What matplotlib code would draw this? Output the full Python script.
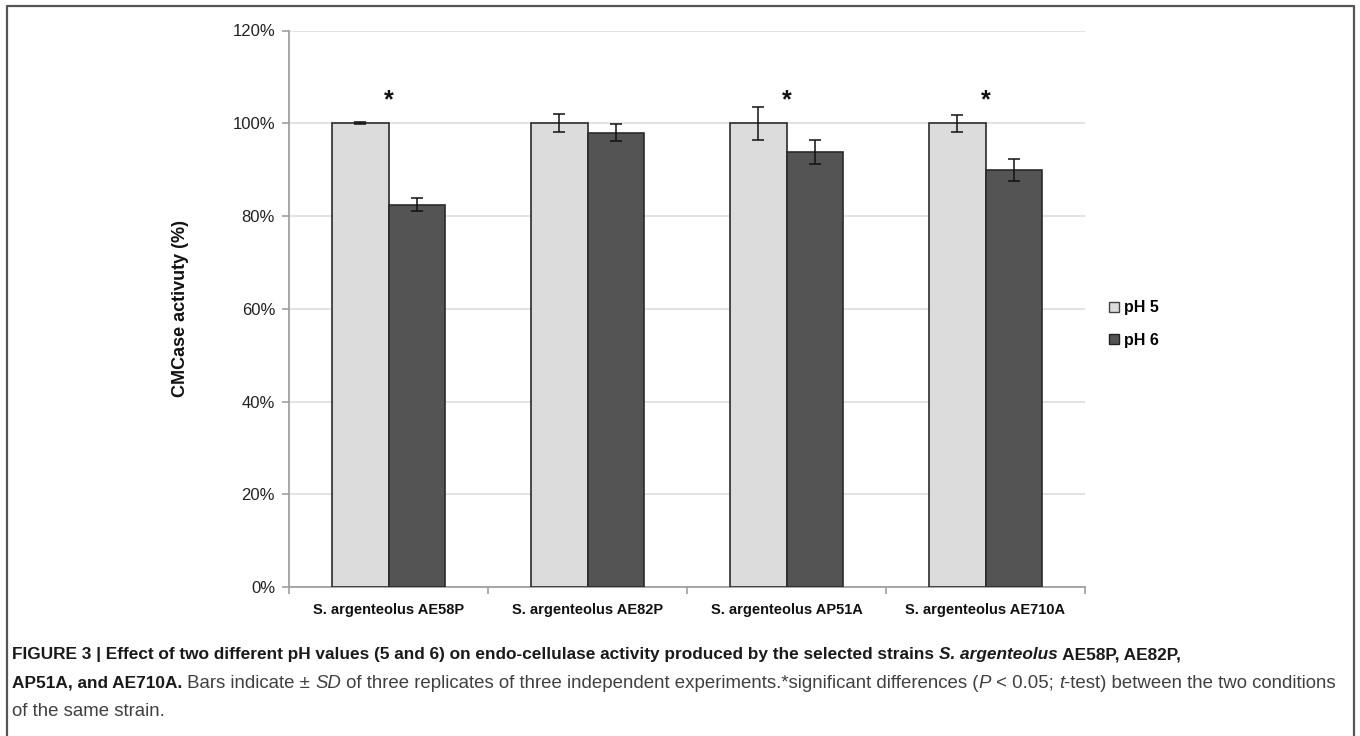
import matplotlib
matplotlib.use("Agg")
import matplotlib.pyplot as plt
import numpy as np
from matplotlib.patches import Patch
from matplotlib.lines import Line2D

plt.rcParams['font.family'] = ['Liberation Sans', 'DejaVu Sans']

categories = ["S. argenteolus AE58P", "S. argenteolus AE82P",
              "S. argenteolus AP51A", "S. argenteolus AE710A"]
series_names = ["pH 5", "pH 6"]
ph5_values = [100.0, 100.0, 100.0, 100.0]
ph5_errors = [0.2, 1.9, 3.6, 1.8]
ph6_values = [82.5, 98.0, 93.8, 89.9]
ph6_errors = [1.3, 1.8, 2.6, 2.3]
significant = [True, False, True, True]
yticks = [0, 20, 40, 60, 80, 100, 120]
ylabel = "CMCase activuty (%)"

W, H = 1360, 736
fig = plt.figure(figsize=(W / 100, H / 100), dpi=100)
ax = fig.add_axes([289 / W, 1 - 587.3 / H, (1085 - 289) / W, (587.3 - 30.5) / H])

x = np.arange(len(categories))
bw = 0.286
c5, c6 = "#dcdcdc", "#545454"
edge = "#2b2b2b"
ax.bar(x - bw / 2, ph5_values, bw, color=c5, edgecolor=edge, linewidth=1.2, zorder=3, label=series_names[0])
ax.bar(x + bw / 2, ph6_values, bw, color=c6, edgecolor=edge, linewidth=1.2, zorder=3, label=series_names[1])
ax.errorbar(x - bw / 2, ph5_values, yerr=ph5_errors, fmt='none', ecolor='#111111',
            elinewidth=1.1, capsize=4, capthick=1.1, zorder=4)
ax.errorbar(x + bw / 2, ph6_values, yerr=ph6_errors, fmt='none', ecolor='#111111',
            elinewidth=1.1, capsize=4, capthick=1.1, zorder=4)

for i, s in enumerate(significant):
    if s:
        ax.text(x[i], 105, "*", ha='center', va='center', fontsize=18, fontweight='bold', color='#111111')

ax.set_xlim(-0.5, len(categories) - 0.5)
ax.set_ylim(0, 120)
ax.set_yticks(yticks)
ax.set_yticklabels([f"{v}%" for v in yticks], fontsize=12, color='#222222')
ax.yaxis.grid(True, color='#dedede', linewidth=1.2, zorder=0)
ax.set_axisbelow(True)
ax.set_xticks(x)
ax.set_xticklabels(categories, fontsize=10.5, fontweight='bold', color='#111111')
ax.tick_params(axis='x', length=0, pad=11)
ax.set_xticks(np.arange(len(categories) + 1) - 0.5, minor=True)
ax.tick_params(axis='x', which='minor', length=5, color='#a0a0a0', width=1.2)
ax.tick_params(axis='y', length=5, color='#a0a0a0', width=1.2, pad=5)
for sp in ['top', 'right']:
    ax.spines[sp].set_visible(False)
for sp in ['left', 'bottom']:
    ax.spines[sp].set_color('#a0a0a0')
    ax.spines[sp].set_linewidth(1.3)
ax.set_ylabel(ylabel, fontsize=13, fontweight='bold', color='#111111', labelpad=31)

handles = [Patch(facecolor=c5, edgecolor='#444444', linewidth=1.0),
           Patch(facecolor=c6, edgecolor='#222222', linewidth=1.0)]
leg = fig.legend(handles, series_names, loc='center left',
                 bbox_to_anchor=(1103 / W, 1 - 324 / H), frameon=False,
                 prop={'weight': 'bold', 'size': 11.5}, handlelength=0.6, handleheight=0.6,
                 handletextpad=0.3, labelspacing=1.1, borderaxespad=0)

# figure frame (open at bottom)
fig.add_artist(Line2D([7 / W, 7 / W, 1354 / W, 1354 / W], [0, 1 - 6 / H, 1 - 6 / H, 0],
                      transform=fig.transFigure, color='#555555', linewidth=1.6))

# caption with mixed styles
renderer = fig.canvas.get_renderer()
bold_size = 12.4
reg_size = 13.4
bold_col = '#1a1a1a'
reg_col = '#404040'


def text_width(s, weight, style, size):
    t1 = fig.text(0, 0, "|" + s + "|", fontsize=size, fontweight=weight, fontstyle=style)
    t2 = fig.text(0, 0, "||", fontsize=size, fontweight=weight, fontstyle=style)
    w = t1.get_window_extent(renderer).width - t2.get_window_extent(renderer).width
    t1.remove()
    t2.remove()
    return w


def draw_line(runs, x0, ybase):
    xp = x0
    for s, weight, style, col in runs:
        size = bold_size if weight == 'bold' else reg_size
        fig.text(xp / W, 1 - ybase / H, s, fontsize=size, fontweight=weight,
                 fontstyle=style, color=col, va='baseline', ha='left')
        xp += text_width(s, weight, style, size)


line1 = [("FIGURE 3 | Effect of two different pH values (5 and 6) on endo-cellulase activity produced by the selected strains ", 'bold', 'normal', bold_col),
         ("S. argenteolus", 'bold', 'italic', bold_col),
         (" AE58P, AE82P,", 'bold', 'normal', bold_col)]
line2 = [("AP51A, and AE710A.", 'bold', 'normal', bold_col),
         (" Bars indicate \u00b1 ", 'normal', 'normal', reg_col),
         ("SD", 'normal', 'italic', reg_col),
         (" of three replicates of three independent experiments.*significant differences (", 'normal', 'normal', reg_col),
         ("P", 'normal', 'italic', reg_col),
         (" < 0.05; ", 'normal', 'normal', reg_col),
         ("t", 'normal', 'italic', reg_col),
         ("-test) between the two conditions", 'normal', 'normal', reg_col)]
line3 = [("of the same strain.", 'normal', 'normal', reg_col)]

draw_line(line1, 12, 659)
draw_line(line2, 12, 688)
draw_line(line3, 12, 716)

fig.savefig("out.png", dpi=100)
